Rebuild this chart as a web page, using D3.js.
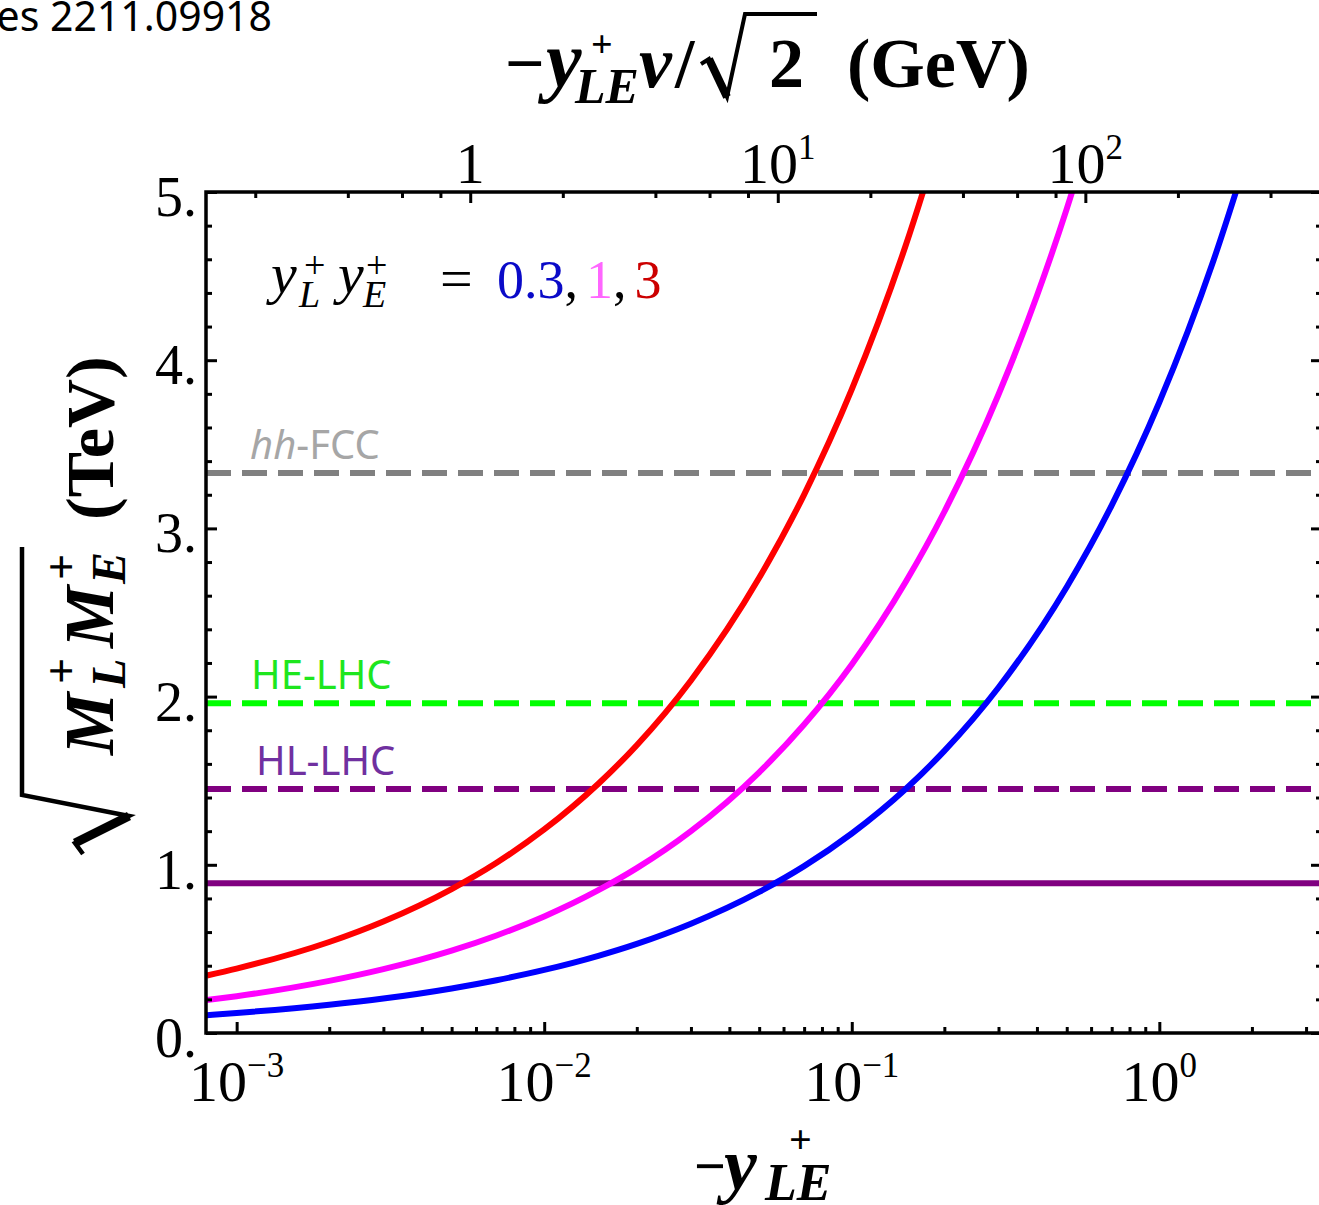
<!DOCTYPE html>
<html>
<head>
<meta charset="utf-8">
<script src="https://cdn.jsdelivr.net/npm/d3@7"></script>
<style>
    body { margin: 0; background: #fff; }
    svg { display: block; }
    text { font-family: "Liberation Serif", "Times New Roman", serif; }
    .sans { font-family: "Noto Sans", "Open Sans", sans-serif; }
</style>
</head>
<body>
<svg></svg>
<script>
const redX = [0.0008, 0.001, 0.002, 0.003, 0.005, 0.007, 0.01, 0.015, 0.02, 0.03, 0.05, 0.07, 0.1, 0.15, 0.2];
const redY = [0.342, 0.383, 0.541, 0.663, 0.856, 1.012, 1.21, 1.482, 1.711, 2.096, 2.706, 3.201, 3.826, 4.686, 5.411];

const magentaX = [0.0008, 0.001, 0.002, 0.003, 0.005, 0.007, 0.01, 0.015, 0.02, 0.03, 0.05, 0.07, 0.1, 0.15, 0.2, 0.3, 0.4, 0.5, 0.6];
const magentaY = [0.196, 0.219, 0.31, 0.38, 0.49, 0.58, 0.693, 0.849, 0.98, 1.2, 1.55, 1.834, 2.191, 2.684, 3.099, 3.796, 4.383, 4.9, 5.368];

const blueX = [0.0008, 0.001, 0.002, 0.003, 0.005, 0.007, 0.01, 0.015, 0.02, 0.03, 0.05, 0.07, 0.1, 0.15, 0.2, 0.3, 0.5, 0.7, 1, 1.5, 2];
const blueY = [0.106, 0.119, 0.168, 0.205, 0.265, 0.314, 0.375, 0.459, 0.53, 0.65, 0.839, 0.992, 1.186, 1.452, 1.677, 2.054, 2.652, 3.137, 3.75, 4.593, 5.303];

// collider reaches (TeV)
const boundNames = ["hh-FCC", "HE-LHC", "HL-LHC", ""];
const boundValues = [3.33, 1.96, 1.45, 0.89];

const yTicks = [0, 1, 2, 3, 4, 5];
const bottomExponents = [-3, -2, -1, 0];
const topTicks = [1, 10, 100];
const topTickLabels = [["1", ""], ["10", "1"], ["10", "2"]];
const topMinor = [0.2, 0.4, 0.6, 0.8, 2, 4, 6, 8, 20, 40, 60, 80, 200, 400];

const width = 1319,
    height = 1205;
const plotLeft = 206,
    plotRight = 1322,
    plotTop = 192,
    plotBottom = 1033;
const vOverRoot2 = 174; // GeV

const svg = d3.select("svg").attr("width", width).attr("height", height);

const x = d3.scaleLog().domain([7.95e-4, 3.38]).range([plotLeft, plotRight]);
const xTop = d3.scaleLog().domain(x.domain().map((d) => d * vOverRoot2)).range([plotLeft, plotRight]);
const y = d3.scaleLinear().domain([0, 5]).range([plotBottom, plotTop]);

svg.append("clipPath").attr("id", "plot")
    .append("rect")
    .attr("x", plotLeft).attr("y", plotTop)
    .attr("width", plotRight - plotLeft).attr("height", plotBottom - plotTop);

// horizontal reach lines
const boundColors = ["#808080", "#00ff00", "#800080", "#800080"];
const boundDash = ["25 11", "25 11", "25 11", null];
svg.append("g").attr("clip-path", "url(#plot)")
    .selectAll("line")
    .data(boundValues)
    .enter()
    .append("line")
    .attr("x1", plotLeft).attr("x2", plotRight)
    .attr("y1", (d) => y(d)).attr("y2", (d) => y(d))
    .attr("stroke", (d, i) => boundColors[i])
    .attr("stroke-width", 6)
    .attr("stroke-dasharray", (d, i) => boundDash[i]);

// curves
const series = [
    { xs: blueX, ys: blueY, color: "#0000ff" },
    { xs: magentaX, ys: magentaY, color: "#ff00ff" },
    { xs: redX, ys: redY, color: "#ff0000" },
];
const line = d3.line()
    .x((d) => x(d[0]))
    .y((d) => y(d[1]))
    .curve(d3.curveMonotoneX);

svg.append("g").attr("clip-path", "url(#plot)")
    .selectAll("path")
    .data(series)
    .enter()
    .append("path")
    .attr("fill", "none")
    .attr("stroke", (d) => d.color)
    .attr("stroke-width", 6)
    .attr("d", (d) => line(d.xs.map((v, i) => [v, d.ys[i]])));

// frame
svg.append("rect")
    .attr("x", plotLeft).attr("y", plotTop)
    .attr("width", plotRight - plotLeft).attr("height", plotBottom - plotTop)
    .attr("fill", "none").attr("stroke", "#000").attr("stroke-width", 3.5);

// ticks
const bottomMajor = bottomExponents.map((e) => Math.pow(10, e));
const bottomMinor = [];
bottomExponents.forEach((e) => {
    for (let m = 2; m <= 9; m++) {
        const v = m * Math.pow(10, e);
        if (v < x.domain()[1]) bottomMinor.push(v);
    }
});
const yMinor = d3.range(0, 5.01, 0.2).filter((d) => Math.abs(d - Math.round(d)) > 0.01);

const tickGroup = (axis, transform) => {
    const g = svg.append("g").attr("transform", transform).call(axis);
    g.select(".domain").remove();
    g.selectAll("line").attr("stroke", "#000").attr("stroke-width", 3);
    g.selectAll("text").remove();
};

tickGroup(d3.axisBottom(x).tickValues(bottomMajor).tickSize(-11), `translate(0,${plotBottom})`);
tickGroup(d3.axisBottom(x).tickValues(bottomMinor).tickSize(-6), `translate(0,${plotBottom})`);
tickGroup(d3.axisTop(xTop).tickValues(topTicks).tickSize(-11), `translate(0,${plotTop})`);
tickGroup(d3.axisTop(xTop).tickValues(topMinor).tickSize(-6), `translate(0,${plotTop})`);
tickGroup(d3.axisLeft(y).tickValues(yTicks).tickSize(-11), `translate(${plotLeft},0)`);
tickGroup(d3.axisLeft(y).tickValues(yMinor).tickSize(-6), `translate(${plotLeft},0)`);
tickGroup(d3.axisRight(y).tickValues(yTicks).tickSize(-11), `translate(${plotRight},0)`);
tickGroup(d3.axisRight(y).tickValues(yMinor).tickSize(-6), `translate(${plotRight},0)`);

// tick labels
svg.append("g")
    .selectAll("text")
    .data(yTicks)
    .enter()
    .append("text")
    .attr("x", 197)
    .attr("y", (d) => y(d) + 24)
    .attr("text-anchor", "end")
    .attr("font-size", 56)
    .text((d) => d + ".");

const bottomLabels = svg.append("g")
    .selectAll("text")
    .data(bottomExponents)
    .enter()
    .append("text")
    .attr("x", (d) => x(Math.pow(10, d)))
    .attr("y", 1101)
    .attr("text-anchor", "middle")
    .attr("font-size", 58);
bottomLabels.append("tspan").text("10");
bottomLabels.append("tspan")
    .attr("dy", -24)
    .attr("font-size", 35)
    .text((d) => (d < 0 ? "\u2212" + -d : d));

const topLabels = svg.append("g")
    .selectAll("text")
    .data(topTicks)
    .enter()
    .append("text")
    .attr("x", (d) => xTop(d))
    .attr("y", 183)
    .attr("text-anchor", "middle")
    .attr("font-size", 58);
topLabels.append("tspan").text((d, i) => topTickLabels[i][0]);
topLabels.append("tspan")
    .attr("dy", -24)
    .attr("font-size", 35)
    .text((d, i) => topTickLabels[i][1]);

// reach labels
const boundLabelX = [250, 251, 256];
const boundLabelFill = ["#a6a6a6", "#1ee61e", "#7030a0"];
svg.append("g")
    .selectAll("text")
    .data(boundNames.slice(0, 3))
    .enter()
    .append("text")
    .attr("class", "sans")
    .attr("x", (d, i) => boundLabelX[i])
    .attr("y", (d, i) => y(boundValues[i]) - 14)
    .attr("font-size", 40)
    .attr("fill", (d, i) => boundLabelFill[i])
    .each(function (d) {
        const t = d3.select(this);
        if (d.startsWith("hh")) {
            t.append("tspan").attr("font-style", "italic").text("hh");
            t.append("tspan").text(d.slice(2));
        } else {
            t.text(d);
        }
    });

// corner reference text
svg.append("text")
    .attr("class", "sans")
    .attr("x", 272).attr("y", 31)
    .attr("text-anchor", "end")
    .attr("font-size", 41)
    .text("es 2211.09918");

// legend  y_L^+ y_E^+ = 0.3, 1, 3
const legend = svg.append("g");
const legendPart = (txt, px, py, size, style) =>
    legend.append("text").attr("x", px).attr("y", py)
        .attr("font-size", size).attr("font-style", style || null).text(txt);
legendPart("y", 271, 293, 58, "italic");
legendPart("L", 299, 307, 38, "italic");
legendPart("+", 304, 278, 38);
legendPart("y", 338, 293, 58, "italic");
legendPart("E", 363, 307, 38, "italic");
legendPart("+", 366, 278, 38);
legendPart("=", 440, 298, 58);
const legendValues = ["0.3", "1", "3"];
const legendColors = ["#0a0ac8", "#ff66ff", "#cc0000"];
const vals = legend.append("text").attr("x", 497).attr("y", 298).attr("font-size", 54);
legendValues.forEach((v, i) => {
    vals.append("tspan").attr("dx", i ? 8 : 0).attr("fill", legendColors[i]).text(v);
    if (i < legendValues.length - 1) vals.append("tspan").attr("fill", "#000").text(",");
});

// top axis title  -y_LE^+ v/sqrt2 (GeV)
const titleTop = svg.append("g").attr("font-weight", "bold");
const part = (g, txt, px, py, size, style) =>
    g.append("text").attr("x", px).attr("y", py)
        .attr("font-size", size).attr("font-style", style || null).text(txt);
part(titleTop, "\u2212", 505, 87, 70);
part(titleTop, "y", 546, 87, 80, "italic");
part(titleTop, "+", 591, 57, 38);
part(titleTop, "LE", 575, 103, 50, "italic");
part(titleTop, "v", 639, 87, 74, "italic");
part(titleTop, "/", 675, 87, 70);
titleTop.append("path")
    .attr("d", "M701,64 L709,59 L727,97 L745,14 L817,14")
    .attr("fill", "none").attr("stroke", "#000").attr("stroke-width", 4)
    .attr("stroke-linejoin", "miter");
titleTop.append("path")
    .attr("d", "M709,59 L727,97")
    .attr("stroke", "#000").attr("stroke-width", 8);
part(titleTop, "2", 769, 87, 70);
part(titleTop, "(GeV)", 847, 87, 70);

// bottom axis title  -y_LE^+
const titleBottom = svg.append("g").attr("font-weight", "bold");
part(titleBottom, "\u2212", 694, 1185, 56);
part(titleBottom, "y", 724, 1189, 74, "italic");
part(titleBottom, "+", 789, 1153, 40);
part(titleBottom, "LE", 765, 1200, 52, "italic");

// y axis title  sqrt(M_L^+ M_E^+) (TeV)
const titleLeft = svg.append("g")
    .attr("font-weight", "bold")
    .attr("transform", "translate(113,830) rotate(-90)");
titleLeft.append("path")
    .attr("d", "M-24,-30 L-13,-38 L14,16 L35,-91 L283,-91")
    .attr("fill", "none").attr("stroke", "#000").attr("stroke-width", 4.5);
titleLeft.append("path")
    .attr("d", "M-13,-38 L14,16")
    .attr("stroke", "#000").attr("stroke-width", 9);
part(titleLeft, "M", 75, 0, 70, "italic");
part(titleLeft, "L", 142, 12, 48, "italic");
part(titleLeft, "+", 146, -36, 46);
part(titleLeft, "M", 182, 0, 70, "italic");
part(titleLeft, "E", 246, 12, 48, "italic");
part(titleLeft, "+", 250, -36, 46);
part(titleLeft, "(TeV)", 310, 0, 68);
</script>
</body>
</html>
